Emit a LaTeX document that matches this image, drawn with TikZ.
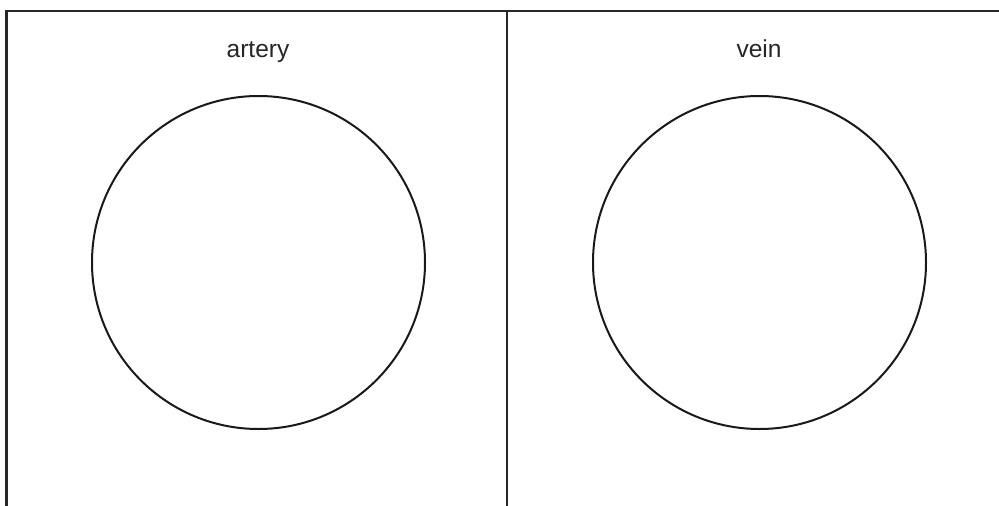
\documentclass[tikz,border=0pt]{standalone}
\usepackage{fontspec}
\setmainfont{Liberation Sans}
\begin{document}
\begin{tikzpicture}[x=1pt,y=-1pt,
  frame/.style={line width=2.4pt, draw=black!85},
  vessel/.style={circle, line width=2pt, draw=black!90, minimum size=333pt, inner sep=0pt},
  label/.style={font=\fontsize{24.5}{28}\selectfont, text=black!85, anchor=base, inner sep=0pt}]
\useasboundingbox (0,0) rectangle (999,506);
\coordinate (tl) at (6.5,11);
\coordinate (tr) at (999,11);
\coordinate (bl) at (6.5,506);
\coordinate (tm) at (507,11);
\coordinate (bm) at (507,506);
\draw[frame] (tr) -- (tl) -- (bl);
\draw[frame] (tm) -- (bm);
\node[vessel] (artery) at (258.5,262.5) {};
\node[vessel] (vein) at (759.5,262.5) {};
\node[label] (al) at (258,57.5) {artery};
\node[label] (vl) at (759,57.5) {vein};
\end{tikzpicture}
\end{document}
